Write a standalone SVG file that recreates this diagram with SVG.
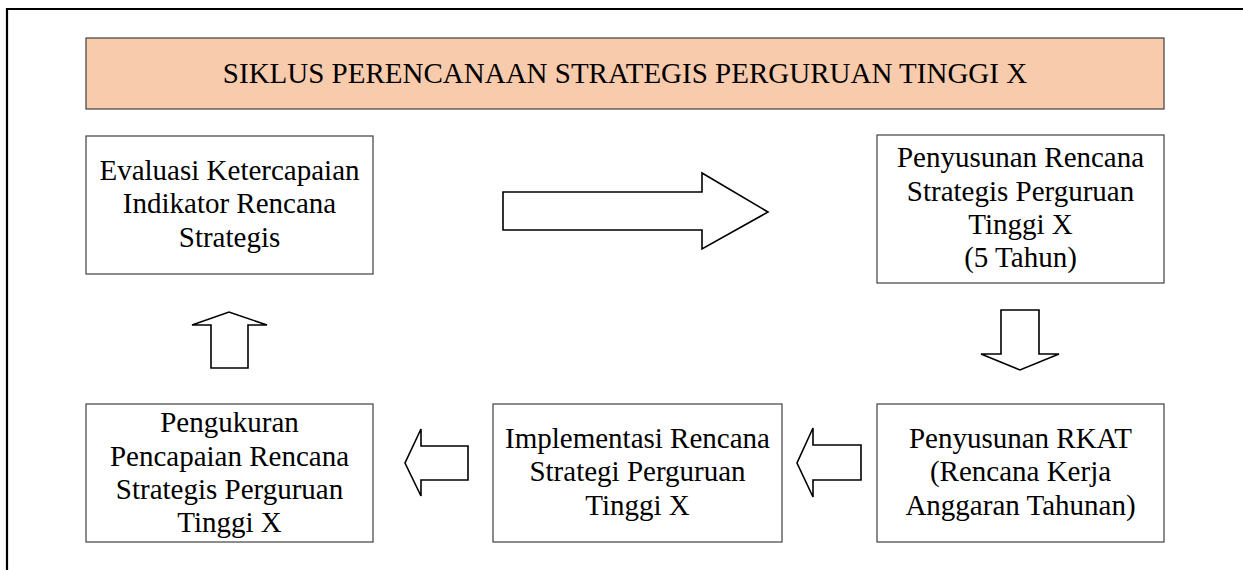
<svg xmlns="http://www.w3.org/2000/svg" width="1243" height="570" viewBox="0 0 1243 570">
<style>
.box{fill:#fff;stroke:#404040;stroke-width:1.2}
.title{fill:#F8CBAD;stroke:#404040;stroke-width:1.2}
.arr{fill:#fff;stroke:#000;stroke-width:1.6;stroke-linejoin:miter}
text{font-family:"Liberation Serif","Times New Roman",serif;font-size:29px;fill:#000;text-anchor:middle}
</style>
<rect width="1243" height="570" fill="#fff"/>
<path d="M7,570 V9 H1243" fill="none" stroke="#000" stroke-width="2.2"/>
<g id="title">
<rect class="title" x="86" y="38" width="1078" height="71"/>
<text x="625" y="83">SIKLUS PERENCANAAN STRATEGIS PERGURUAN TINGGI X</text>
</g>
<g id="evaluasi">
<rect class="box" x="86" y="136" width="287" height="138"/>
<text x="229.5" y="180">Evaluasi Ketercapaian</text>
<text x="229.5" y="213">Indikator Rencana</text>
<text x="229.5" y="247">Strategis</text>
</g>
<g id="penyusunan-renstra">
<rect class="box" x="877" y="135" width="287" height="148"/>
<text x="1020.5" y="167">Penyusunan Rencana</text>
<text x="1020.5" y="201">Strategis Perguruan</text>
<text x="1020.5" y="234">Tinggi X</text>
<text x="1020.5" y="267">(5 Tahun)</text>
</g>
<g id="pengukuran">
<rect class="box" x="86" y="404" width="287" height="138"/>
<text x="229.5" y="432">Pengukuran</text>
<text x="229.5" y="466">Pencapaian Rencana</text>
<text x="229.5" y="499">Strategis Perguruan</text>
<text x="229.5" y="532">Tinggi X</text>
</g>
<g id="implementasi">
<rect class="box" x="493" y="404" width="289" height="138"/>
<text x="637.5" y="448">Implementasi Rencana</text>
<text x="637.5" y="481">Strategi Perguruan</text>
<text x="637.5" y="515">Tinggi X</text>
</g>
<g id="rkat">
<rect class="box" x="877" y="404" width="287" height="138"/>
<text x="1020.5" y="448">Penyusunan RKAT</text>
<text x="1020.5" y="481">(Rencana Kerja</text>
<text x="1020.5" y="515">Anggaran Tahunan)</text>
</g>
<g id="connectors">
<polygon class="arr" points="503,192 702,192 702,173 768,212 702,249 702,230 503,230"/>
<polygon class="arr" points="1001,310 1039,310 1039,354 1059,354 1020,370 981,354 1001,354"/>
<polygon class="arr" points="861,445 813,445 813,428 797,463 813,497 813,480 861,480"/>
<polygon class="arr" points="468,446 421,446 421,429 405,463 421,496 421,480 468,480"/>
<polygon class="arr" points="211,368 211,325 192,325 229,312 267,325 248,325 248,368"/>
</g>
</svg>
